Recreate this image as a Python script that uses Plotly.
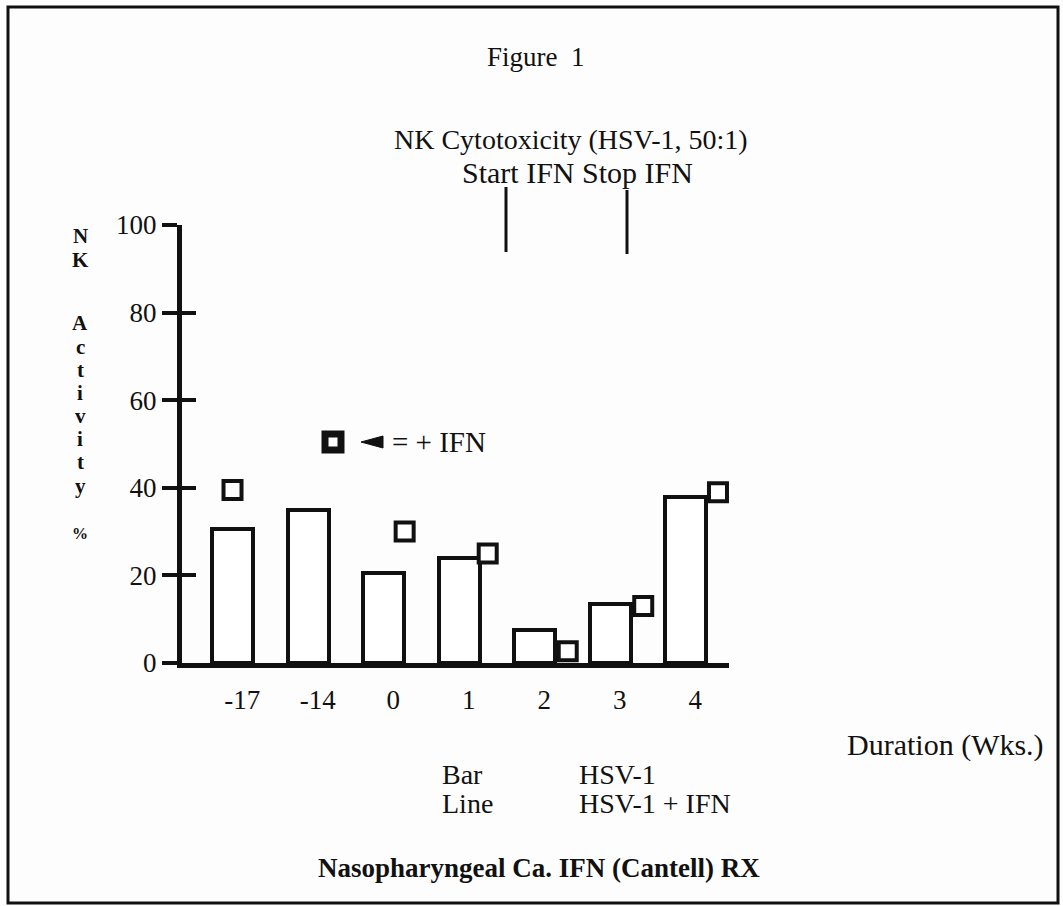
import plotly.graph_objects as go

# Weeks relative to start of IFN therapy
weeks = ["-17", "-14", "0", "1", "2", "3", "4"]
# NK activity (%) against HSV-1 targets, 50:1
hsv1 = [30.5, 35, 20.5, 24, 7.5, 13.5, 38]
# NK activity (%) with IFN added in vitro (no value at -14)
hsv1_ifn = [39.5, None, 30, 25, 2.7, 13, 39]
y_ticks = [0, 20, 40, 60, 80, 100]
y_title_letters = ["N", "K", "A", "c", "t", "i", "v", "i", "t", "y", "%"]

# ---- page geometry (pixels) ----
W, H = 1063, 906
L, R, T, B = 182, 334, 225, 243
PW, PH = W - L - R, H - T - B

def px(x):
    return (x - L) / PW

def py(y):
    return (H - B - y) / PH

INK = "#111111"
SERIF = "Liberation Serif, Times New Roman, serif"

slots = list(range(len(weeks)))
# sideways placement of each +IFN square next to its bar (category units)
ifn_shift = [0.0, 0.0, 0.28, 0.38, 0.44, 0.44, 0.43]

fig = go.Figure()

fig.add_trace(go.Bar(
    x=slots, y=hsv1, width=0.543,
    marker=dict(color="white", line=dict(color=INK, width=4)),
    showlegend=False, hoverinfo="skip",
))

mx, my = [], []
for s, v, d in zip(slots, hsv1_ifn, ifn_shift):
    if v is not None:
        mx.append(s + d)
        my.append(v)
fig.add_trace(go.Scatter(
    x=mx, y=my, mode="markers", yaxis="y2",
    marker=dict(symbol="square", size=18, color="white",
                line=dict(color=INK, width=4)),
    showlegend=False, hoverinfo="skip",
))

fig.update_layout(
    width=W, height=H, autosize=False,
    margin=dict(l=L, r=R, t=T, b=B, pad=0),
    paper_bgcolor="#fdfdfd", plot_bgcolor="#fdfdfd",
    font=dict(family=SERIF, color=INK, size=27),
    xaxis=dict(
        range=[-0.669, 6.576], tickmode="array",
        tickvals=[s + 0.13 for s in slots], ticktext=weeks,
        ticks="", showgrid=False, zeroline=False,
        showline=True, linewidth=5, linecolor=INK,
        tickfont=dict(family=SERIF, size=27, color=INK),
        ticklabelstandoff=9,
    ),
    yaxis=dict(
        range=[0, 100], tickmode="array", tickvals=y_ticks,
        ticks="outside", ticklen=15, tickwidth=4, tickcolor=INK,
        showgrid=False, zeroline=False,
        showline=True, linewidth=5, linecolor=INK,
        tickfont=dict(family=SERIF, size=27, color=INK),
    ),
    yaxis2=dict(
        range=[0, 100], overlaying="y", side="left", anchor="x",
        tickmode="array", tickvals=y_ticks,
        ticks="inside", ticklen=14, tickwidth=4, tickcolor=INK,
        showticklabels=False, showgrid=False, zeroline=False, showline=False,
    ),
    bargap=0,
)

shapes = [
    # frame around the figure
    dict(type="rect", xref="paper", yref="paper",
         x0=px(8), x1=px(1058), y0=py(7), y1=py(903),
         line=dict(color=INK, width=3), fillcolor="rgba(0,0,0,0)", layer="below"),
    # therapy start / stop markers
    dict(type="line", xref="paper", yref="paper",
         x0=px(506), x1=px(506), y0=py(187), y1=py(252),
         line=dict(color=INK, width=3)),
    dict(type="line", xref="paper", yref="paper",
         x0=px(627), x1=px(627), y0=py(190), y1=py(254),
         line=dict(color=INK, width=3)),
    # key: square symbol and arrow
    dict(type="rect", xref="paper", yref="paper",
         x0=px(325), x1=px(341), y0=py(434), y1=py(450),
         line=dict(color=INK, width=7), fillcolor="white"),
    dict(type="path", xref="paper", yref="paper",
         path=f"M {px(383)} {py(436)} L {px(383)} {py(448)} L {px(361)} {py(442)} Z",
         line=dict(color=INK, width=1), fillcolor=INK),
]
fig.update_layout(shapes=shapes)

def label(text, x, y, size=27, anchor="left", bold=False):
    if bold:
        text = f"<b>{text}</b>"
    fig.add_annotation(
        text=text, xref="paper", yref="paper", x=px(x), y=py(y),
        xanchor=anchor, yanchor="middle", showarrow=False,
        font=dict(family=SERIF, size=size, color=INK),
    )

label("Figure  1", 536, 57, anchor="center")
label("NK Cytotoxicity (HSV-1, 50:1)", 392, 139, size=28)
label("Start IFN Stop IFN", 460, 172, size=30)
label("= + IFN", 390, 442, size=29)
label("Duration (Wks.)", 845, 745, size=30)
label("Bar", 440, 774, size=28)
label("HSV-1", 577, 774, size=28)
label("Line", 440, 803, size=28)
label("HSV-1 + IFN", 577, 803, size=28)
label("Nasopharyngeal Ca. IFN (Cantell) RX", 762, 868, anchor="right", bold=True)

letter_y = [236, 260, 323, 347, 370, 393, 416, 439, 462, 486, 533]
for ch, yy in zip(y_title_letters, letter_y):
    label(ch, 80, yy, size=16 if ch == "%" else 21, anchor="center", bold=True)

fig.write_html("out.html")
